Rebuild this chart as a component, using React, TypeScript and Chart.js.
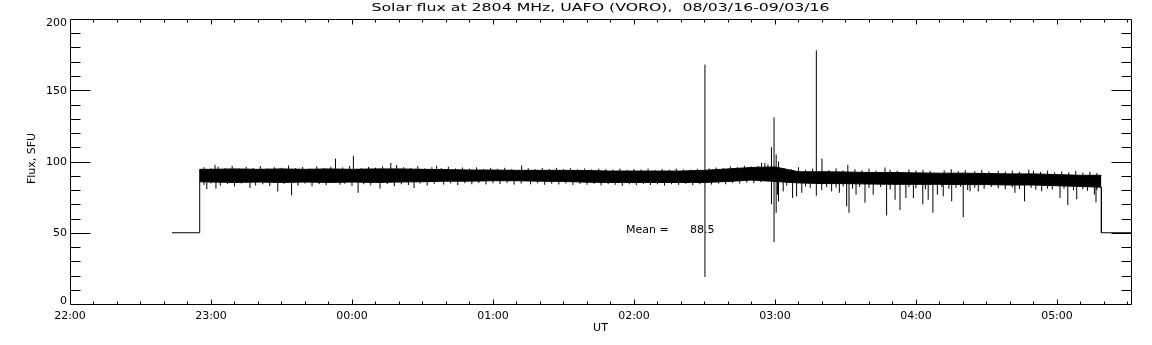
import React, { useEffect, useRef } from "react";
import { Chart, registerables } from "chart.js";

Chart.register(...registerables);

// ---- text ----
const titleText = "Solar flux at 2804 MHz, UAFO (VORO),  08/03/16-09/03/16";
const yAxisTitle = "Flux, SFU";
const xAxisTitle = "UT";
const xTickMinutes = [0, 60, 120, 180, 240, 300, 360, 420];
const xTickLabels = ["22:00", "23:00", "00:00", "01:00", "02:00", "03:00", "04:00", "05:00"];
const yTickValues = [0, 50, 100, 150, 200];
const yTickLabels = ["0", "50", "100", "150", "200"];
const meanValue = 88.5;
const meanLabelTime = 236.6; // minutes after 22:00
const meanLabelLevel = 52;

// ---- time axis (minutes after 22:00 UT) ----
const axisStartTime = 0;
const axisEndTime = 451.5;

// ---- receiver off level (before / after observation) ----
const offLevel = 50;
const offStartTime = 43.4;
const onTime = 55.2;
const offTime = 438.9;

// ---- dense core of the flux trace, sampled every 10 min ----
const bandTimes = [
  55.2, 60, 70, 80, 90, 100, 110, 120, 130, 140, 150, 160, 170, 180, 190, 200, 210, 220, 230, 240,
  250, 260, 270, 280, 290, 300, 310, 320, 330, 340, 350, 360, 370, 380, 390, 400, 410, 420, 430, 438.9,
];
const bandHigh = [
  94.5, 94.5, 94.8, 94.5, 94.8, 94.5, 94.8, 94.5, 94.8, 94.8, 94.5, 94.3, 94, 94, 93.8, 93.8, 93.8, 93.6, 93.3, 93.3,
  93.3, 93.3, 93.8, 94.8, 95.8, 96.2, 92.8, 92.8, 92.6, 92.3, 92.3, 92, 91.8, 91.8, 91.6, 91.3, 91.3, 90.8, 90.3, 90.3,
];
const bandLow = [
  85.8, 85.6, 85.3, 85.6, 85.3, 85.6, 85.3, 85.6, 85.3, 85.6, 85.8, 86.2, 86.2, 86.5, 86.5, 86.2, 86, 85.5, 85.3, 85.3,
  85.3, 85.3, 85.3, 86, 87, 86, 85, 84.5, 84.5, 84.2, 84, 84, 84, 83.8, 83.8, 83.5, 83.5, 83, 82.5, 82,
];

// ---- noise fringe above the core ----
const fringeUpTimes = [
  57, 60, 63, 66, 69, 72, 75, 78, 81, 84, 87, 90, 93, 96, 99, 102, 105, 108, 111, 116, 119, 124, 127, 130, 133,
  139, 142, 145, 148, 151, 154, 158, 161, 164, 167, 170, 173, 176, 179, 182, 185, 188, 195, 198, 201, 204, 207,
  210, 213, 216, 219, 222, 225, 228, 231, 234, 237, 240, 243, 246, 249, 252, 255, 258, 261, 264, 267, 272, 275,
  278, 281, 284, 287, 290, 297, 304, 307, 310, 313, 316, 323, 326, 329, 334, 337, 340, 343, 349, 352, 357, 360,
  363, 366, 372, 375, 378, 381, 385, 388, 391, 395, 398, 401, 404, 410, 413, 416, 419, 422, 425, 428, 431, 434, 437,
];
const fringeUpPeaks = [
  96, 95.2, 96.5, 95.5, 97, 95, 96.2, 95.4, 96.8, 95.1, 96, 95.6, 97.2, 95.3, 96.1, 95, 96.6, 95.5, 96.3, 95.8, 96.9, 95.4, 96.2, 95.7, 96.5,
  97.5, 96, 95.5, 96.7, 95.2, 96, 95.4, 96.3, 95.1, 95.8, 95, 95.9, 94.8, 95.5, 94.9, 95.6, 94.7, 95.3, 94.6, 95.4, 94.8, 95.5,
  94.6, 95.2, 94.5, 95.1, 94.4, 95, 94.6, 94.3, 95, 94.2, 94.8, 94.4, 95, 94.1, 94.7, 94.3, 95, 94.5, 94.2, 94.9, 95.2, 95.8,
  95.4, 96.5, 96, 97, 96.4, 98, 95, 94.5, 96, 94.2, 95, 94, 95.2, 93.8, 94.5, 93.9, 95, 93.6, 94.2, 93.5, 94.4, 93.7,
  94.1, 93.4, 93.8, 94.6, 93.3, 93.9, 93.2, 94, 93, 93.6, 92.9, 93.5, 92.8, 93.4, 92.7, 93.6, 92.5, 93, 92.4, 93.5, 92.2, 92.8, 92,
];

// ---- noise fringe below the core ----
const fringeDownTimes = [
  57, 60, 64, 67, 70, 73, 79, 82, 85, 91, 97, 100, 103, 106, 109, 117, 120, 125, 128, 135, 138, 141, 144, 149, 152,
  155, 159, 162, 165, 168, 171, 174, 177, 180, 183, 186, 189, 192, 196, 199, 202, 205, 208, 211, 214, 217, 220,
  223, 226, 229, 232, 235, 238, 241, 244, 247, 250, 253, 256, 259, 262, 265, 268, 273, 276, 279, 282, 285, 288,
  291, 294, 305, 313, 315, 322, 326, 329, 333, 336, 340, 345, 349, 357, 360, 364, 371, 374, 377, 379, 382, 385,
  389, 392, 395, 398, 401, 404, 409, 411, 416, 418, 423, 427, 431, 433, 437,
];
const fringeDownDips = [
  83.5, 84.5, 83, 84.2, 82.5, 84.6, 83.2, 84, 82.8, 84.3, 83, 84.5, 82.6, 84.1, 83.4, 84.4, 82.9, 84, 83.3, 84.2, 82.7, 84, 83.5, 84.6, 83.2,
  84.3, 83.8, 84.6, 83.5, 84.8, 84, 84.9, 83.9, 84.7, 84.2, 85, 83.8, 84.5, 84, 84.7, 83.6, 84.4, 83.9, 84.6, 83.5, 84.2, 83.7,
  84.4, 83.2, 84.1, 83.6, 82.8, 84, 83.4, 84.2, 83.5, 84, 83.1, 84, 83.6, 84.3, 83.4, 84, 83.8, 84.5, 84, 85, 84.6, 85.2,
  84.8, 85.5, 83, 82.5, 81.5, 82, 81.8, 82.5, 81, 82.2, 81.5, 82, 80.5, 82, 81.2, 80.5, 82, 80.8, 81.5, 82.2, 80, 81.6,
  80.8, 82, 81.2, 80.5, 81.8, 80.6, 81.5, 80.2, 81, 80.4, 80.9, 79.8, 80.5, 79.5, 80,
];

// ---- large bursts / spikes ----
const burstTimes = [270.2, 298.5, 299.6, 300.5, 301.5, 317.6];
const burstLow = [19, 70, 43.5, 64, 72, 76];
const burstHigh = [168, 110, 131, 105, 100, 178];

// ---- small upward excursions ----
const upTimes = [61.7, 113, 120.6, 136.5, 156, 192.2, 292.8, 294.3, 295.7, 320, 331, 346.8, 408];
const upPeaks = [97.7, 102, 104, 99, 97, 97.2, 97, 99, 99, 102, 97.7, 95.8, 94.2];

// ---- small downward excursions ----
const downTimes = [
  58.2, 62.1, 76.6, 88.4, 94.3, 114.9, 122.6, 131.9, 146.4, 301.1, 303.5, 307.5, 309.2, 311.4, 319.9,
  324.1, 327.4, 330.5, 331.5, 334.5, 338.3, 341.8, 347.5, 351.1, 353.2, 355.7, 358.9, 362.9, 365.2,
  367.2, 369.1, 371.6, 375.2, 380.1, 383, 386.5, 402.1, 406.2, 413.5, 421.3, 424.6, 428.4, 435.9, 436.6,
];
const downDips = [
  80.7, 81, 81.4, 79, 76.2, 83.7, 78, 81, 81.4, 76.7, 79, 74.4, 75.5, 78, 80,
  79, 78, 68.5, 64, 76.7, 71, 76.7, 62.2, 73.2, 66, 74.4, 74.4, 70, 73.2,
  64, 76.7, 75.5, 72, 61, 79, 79, 78, 72, 79, 74.4, 69.5, 73.5, 76.7, 71.3,
];
const spikeBase = 89;

const FONT = "11px 'DejaVu Sans', sans-serif";

function segments(times: number[], lows: number[], highs: number[]) {
  const pts: { x: number; y: number | null }[] = [];
  times.forEach((t, i) => {
    pts.push({ x: t, y: lows[i] });
    pts.push({ x: t, y: highs[i] });
    pts.push({ x: t, y: null });
  });
  return pts;
}

const idlAxes = {
  id: "idlAxes",
  beforeDraw(chart: any) {
    const { ctx } = chart;
    ctx.save();
    ctx.fillStyle = "#fff";
    ctx.fillRect(0, 0, chart.width, chart.height);
    ctx.restore();
  },
  afterDraw(chart: any) {
    const { ctx, chartArea: ca, scales } = chart;
    const xs = scales.x;
    const ys = scales.y;
    const L = Math.round(ca.left) + 0.5;
    const R = Math.round(ca.right) + 0.5;
    const T = Math.round(ca.top) + 0.5;
    const B = Math.round(ca.bottom) + 0.5;
    ctx.save();
    ctx.strokeStyle = "#000";
    ctx.lineWidth = 1;
    ctx.beginPath();
    ctx.moveTo(L, T);
    ctx.lineTo(R, T);
    ctx.lineTo(R, B);
    ctx.lineTo(L, B);
    ctx.closePath();
    // y ticks
    for (let v = 10; v < 200; v += 10) {
      const y = Math.round(ys.getPixelForValue(v)) + 0.5;
      const len = v % 50 === 0 ? 20 : 10;
      ctx.moveTo(L, y);
      ctx.lineTo(L + len, y);
      ctx.moveTo(R, y);
      ctx.lineTo(R - len, y);
    }
    // x ticks
    for (let m = 10; m < axisEndTime; m += 10) {
      const x = Math.round(xs.getPixelForValue(m)) + 0.5;
      const len = m % 60 === 0 ? 5 : 3;
      ctx.moveTo(x, B);
      ctx.lineTo(x, B - len);
      ctx.moveTo(x, T);
      ctx.lineTo(x, T + len);
    }
    ctx.stroke();

    ctx.fillStyle = "#000";
    ctx.font = FONT;
    // y labels
    ctx.textAlign = "right";
    ctx.textBaseline = "middle";
    yTickValues.forEach((v, i) => {
      let y = ys.getPixelForValue(v);
      if (v === 0) y -= 3.5;
      if (v === 200) y += 4;
      ctx.fillText(yTickLabels[i], ca.left - 3, y + 0.5);
    });
    // x labels
    ctx.textAlign = "center";
    xTickMinutes.forEach((m, i) => {
      ctx.fillText(xTickLabels[i], xs.getPixelForValue(m), ca.bottom + 12.5);
    });
    // x title
    ctx.fillText(xAxisTitle, (ca.left + ca.right) / 2, ca.bottom + 24);
    // y title
    ctx.save();
    ctx.translate(32, (ca.top + ca.bottom) / 2 - 3);
    ctx.rotate(-Math.PI / 2);
    ctx.fillText(yAxisTitle, 0, 0);
    ctx.restore();
    // title, stretched to the width of the original vector-font title
    const targetW = 458;
    ctx.textAlign = "left";
    const w0 = ctx.measureText(titleText).width;
    const cx = (ca.left + ca.right) / 2;
    ctx.save();
    ctx.translate(cx - targetW / 2, 8);
    ctx.scale(targetW / w0, 1);
    ctx.fillText(titleText, 0, 0);
    ctx.restore();
    // mean label
    const mx = xs.getPixelForValue(meanLabelTime);
    const my = ys.getPixelForValue(meanLabelLevel);
    ctx.fillText("Mean =", mx, my);
    ctx.fillText(meanValue.toFixed(1), mx + 64, my);
    ctx.restore();
  },
};

export default function App() {
  const ref = useRef<HTMLCanvasElement | null>(null);
  useEffect(() => {
    if (!ref.current) return;
    const high = bandTimes.map((t, i) => ({ x: t, y: bandHigh[i] }));
    const low = bandTimes.map((t, i) => ({ x: t, y: bandLow[i] }));
    const leftStep = [
      { x: offStartTime, y: offLevel },
      { x: onTime, y: offLevel },
      { x: onTime, y: bandHigh[0] },
    ];
    const rightStep = [
      { x: offTime, y: bandLow[bandLow.length - 1] },
      { x: offTime, y: offLevel },
      { x: axisEndTime, y: offLevel },
    ];
    const common = {
      borderColor: "#000",
      backgroundColor: "#000",
      borderWidth: 1,
      pointRadius: 0,
      tension: 0,
      spanGaps: false,
    };
    const chart = new Chart(ref.current, {
      type: "line",
      data: {
        datasets: [
          { ...common, label: "high", data: high, fill: "+1" },
          { ...common, label: "low", data: low, fill: false },
          {
            ...common,
            label: "fringe-up",
            data: segments(fringeUpTimes, fringeUpTimes.map(() => spikeBase), fringeUpPeaks),
            fill: false,
          },
          {
            ...common,
            label: "fringe-down",
            data: segments(fringeDownTimes, fringeDownDips, fringeDownTimes.map(() => spikeBase)),
            fill: false,
          },
          { ...common, label: "off-left", data: leftStep, fill: false },
          { ...common, label: "off-right", data: rightStep, fill: false },
          { ...common, label: "bursts", data: segments(burstTimes, burstLow, burstHigh), fill: false },
          {
            ...common,
            label: "up",
            data: segments(upTimes, upTimes.map(() => spikeBase), upPeaks),
            fill: false,
          },
          {
            ...common,
            label: "down",
            data: segments(downTimes, downDips, downTimes.map(() => spikeBase)),
            fill: false,
          },
        ] as any,
      },
      options: {
        animation: false,
        responsive: false,
        parsing: true,
        layout: { padding: { left: 70, right: 21, top: 19, bottom: 41 } },
        plugins: { legend: { display: false }, tooltip: { enabled: false }, title: { display: false } },
        scales: {
          x: { type: "linear", min: axisStartTime, max: axisEndTime, display: false },
          y: { type: "linear", min: 0, max: 200, display: false },
        },
      } as any,
      plugins: [idlAxes],
    });
    return () => chart.destroy();
  }, []);
  return (
    <div style={{ position: "fixed", left: 0, top: 0, width: 1152, height: 345, background: "#fff" }}>
      <canvas ref={ref} width={1152} height={345} style={{ display: "block" }} />
    </div>
  );
}
